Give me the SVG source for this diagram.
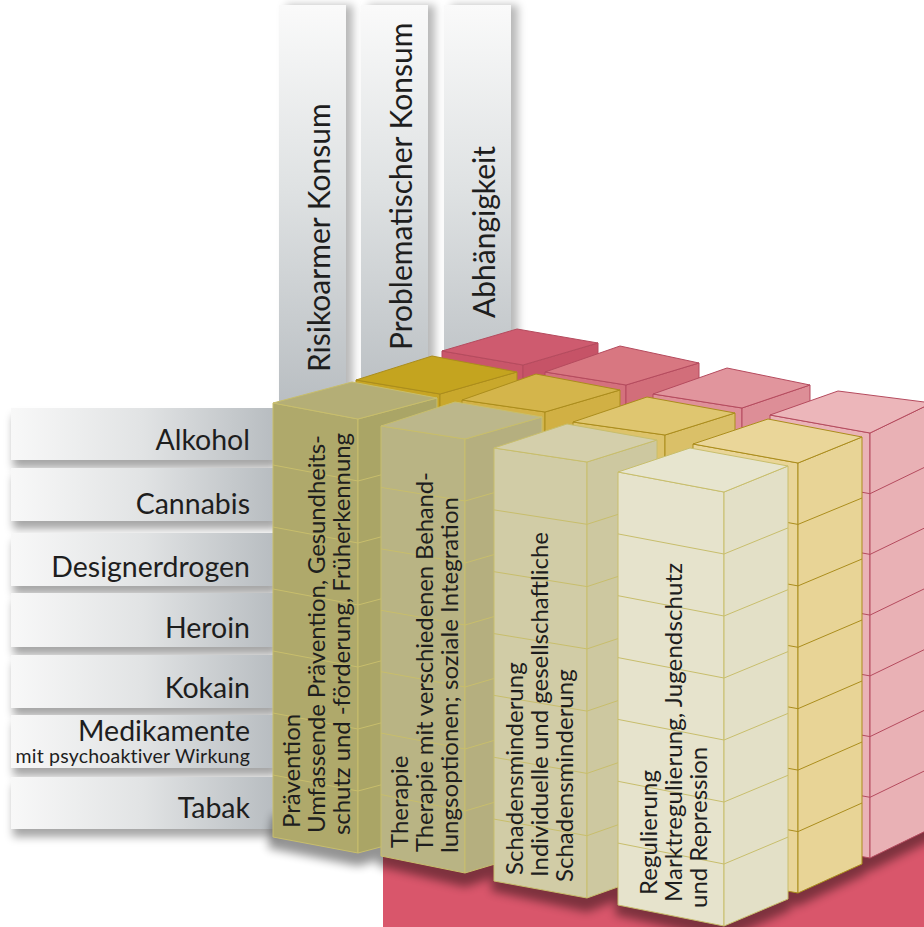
<svg xmlns="http://www.w3.org/2000/svg" width="924" height="927" viewBox="0 0 924 927">
<style>
.txt{font-family:Lato,"Open Sans","DejaVu Sans",sans-serif;font-weight:400;fill:#1e1e1e}
.tl{font-size:28.5px;text-anchor:end}
.ts{font-size:19.5px;text-anchor:end;letter-spacing:0.2px}
.tb{font-size:30px}
.tc{font-size:24px}
.er polygon,.er polyline{stroke:#b54b5e;stroke-width:1;stroke-linejoin:round}
.ey polygon,.ey polyline{stroke:#ab8d1c;stroke-width:1;stroke-linejoin:round}
.ef polygon,.ef polyline{stroke:#c8be6c;stroke-width:1;stroke-linejoin:round}
polyline{fill:none}
</style>
<defs>
<linearGradient id="gTop" x1="0" y1="5" x2="0" y2="410" gradientUnits="userSpaceOnUse">
<stop offset="0" stop-color="#fafafa"/><stop offset="0.45" stop-color="#dfe2e3"/><stop offset="1" stop-color="#b8bdc1"/>
</linearGradient>
<linearGradient id="gLeft" x1="11" y1="0" x2="276" y2="0" gradientUnits="userSpaceOnUse">
<stop offset="0" stop-color="#f8f8f8"/><stop offset="0.5" stop-color="#e1e3e4"/><stop offset="1" stop-color="#b7bcc0"/>
</linearGradient>
<filter id="shR" x="-20%" y="-5%" width="160%" height="110%">
<feDropShadow dx="7" dy="0" stdDeviation="4" flood-color="#000" flood-opacity="0.28"/>
</filter>
<filter id="shD" x="-5%" y="-20%" width="110%" height="160%">
<feDropShadow dx="2" dy="8" stdDeviation="4" flood-color="#000" flood-opacity="0.35"/>
</filter>
<filter id="blur" x="-20%" y="-50%" width="140%" height="200%">
<feGaussianBlur stdDeviation="5"/>
</filter>
</defs>
<rect width="924" height="927" fill="#ffffff"/>

<g id="top-bars">
<g id="bar-risikoarm">
<rect x="279" y="5" width="67" height="410" fill="url(#gTop)" filter="url(#shR)"/>
<text class="txt tb" transform="translate(330,372) rotate(-90)">Risikoarmer Konsum</text>
</g>
<g id="bar-problematisch">
<rect x="361" y="5" width="67" height="395" fill="url(#gTop)" filter="url(#shR)"/>
<text class="txt tb" transform="translate(412,350) rotate(-90)">Problematischer Konsum</text>
</g>
<g id="bar-abhaengigkeit">
<rect x="444" y="5" width="67" height="365" fill="url(#gTop)" filter="url(#shR)"/>
<text class="txt tb" transform="translate(495,318) rotate(-90)">Abhängigkeit</text>
</g>
</g>

<g id="left-bars">
<g id="row-alkohol"><rect x="11" y="408" width="265" height="52" fill="url(#gLeft)" filter="url(#shD)"/><text class="txt tl" x="250" y="450">Alkohol</text></g>
<g id="row-cannabis"><rect x="11" y="468" width="265" height="53" fill="url(#gLeft)" filter="url(#shD)"/><text class="txt tl" x="250" y="514">Cannabis</text></g>
<g id="row-designerdrogen"><rect x="11" y="533" width="265" height="53" fill="url(#gLeft)" filter="url(#shD)"/><text class="txt tl" x="250" y="577">Designerdrogen</text></g>
<g id="row-heroin"><rect x="11" y="593" width="265" height="54" fill="url(#gLeft)" filter="url(#shD)"/><text class="txt tl" x="250" y="638">Heroin</text></g>
<g id="row-kokain"><rect x="11" y="655" width="265" height="53" fill="url(#gLeft)" filter="url(#shD)"/><text class="txt tl" x="250" y="698">Kokain</text></g>
<g id="row-medikamente"><rect x="11" y="715" width="265" height="53" fill="url(#gLeft)" filter="url(#shD)"/><text class="txt tl" x="250" y="741">Medikamente</text><text class="txt ts" x="250" y="763">mit psychoaktiver Wirkung</text></g>
<g id="row-tabak"><rect x="11" y="777" width="265" height="52" fill="url(#gLeft)" filter="url(#shD)"/><text class="txt tl" x="250" y="818">Tabak</text></g>
</g>

<g id="base">
<polygon points="383,700 924,700 924,927 383,927" fill="#d9566b"/>
</g>

<g id="shadows" filter="url(#blur)" fill="#000" opacity="0.42">
<polygon points="273,815 358,831 437,810 440,842 358,866 268,848"/>
<polygon points="381,835 465,852 542,829 545,860 465,887 378,866"/>
<polygon points="494,860 587,877 657,852 660,884 587,912 491,891"/>
<polygon points="618,884 724,905 788,878 791,910 724,940 615,915"/>
<polygon points="693,853 798,872 862,843 866,874 798,906 690,884"/>
<polygon points="770,819 870,837 932,807 936,838 870,871 767,850"/>
</g>

<g id="row-abhaengigkeit-cubes" class="er">
<g id="r1">
<polygon points="442,351 523,365 523,790 442,776" fill="#c9566a"/>
<polygon points="523,365 598,343 598,768 523,790" fill="#c65367"/>
<polygon points="442,351 517,329 598,343 523,365" fill="#ce5b6f"/>
<polyline points="442,411.7 523,425.7 598,403.7"/><polyline points="442,472.4 523,486.4 598,464.4"/><polyline points="442,533.1 523,547.1 598,525.1"/><polyline points="442,593.9 523,607.9 598,585.9"/><polyline points="442,654.6 523,668.6 598,646.6"/><polyline points="442,715.3 523,729.3 598,707.3"/>
</g>
<g id="r2">
<polygon points="545,372 626,385 626,810 545,797" fill="#d4717d"/>
<polygon points="626,385 699,363 699,788 626,810" fill="#d26e7a"/>
<polygon points="545,372 620,346 699,363 626,385" fill="#d87781"/>
<polyline points="545,432.7 626,445.7 699,423.7"/><polyline points="545,493.4 626,506.4 699,484.4"/><polyline points="545,554.1 626,567.1 699,545.1"/><polyline points="545,614.9 626,627.9 699,605.9"/><polyline points="545,675.6 626,688.6 699,666.6"/><polyline points="545,736.3 626,749.3 699,727.3"/>
</g>
<g id="r3">
<polygon points="653,394 742,408 742,833 653,819" fill="#df9099"/>
<polygon points="742,408 810,385 810,810 742,833" fill="#dd8e97"/>
<polygon points="653,394 727,368 810,385 742,408" fill="#e1959d"/>
<polyline points="653,454.7 742,468.7 810,445.7"/><polyline points="653,515.4 742,529.4 810,506.4"/><polyline points="653,576.1 742,590.1 810,567.1"/><polyline points="653,636.9 742,650.9 810,627.9"/><polyline points="653,697.6 742,711.6 810,688.6"/><polyline points="653,758.3 742,772.3 810,749.3"/>
</g>
<g id="r4">
<polygon points="770,415 870,433 870,858 770,840" fill="#eab3b7"/>
<polygon points="870,433 932,403 932,828 870,858" fill="#e9b1b5"/>
<polygon points="770,415 838,391 932,403 870,433" fill="#ecb6ba"/>
<polyline points="770,475.7 870,493.7 932,463.7"/><polyline points="770,536.4 870,554.4 932,524.4"/><polyline points="770,597.1 870,615.1 932,585.1"/><polyline points="770,657.9 870,675.9 932,645.9"/><polyline points="770,718.6 870,736.6 932,706.6"/><polyline points="770,779.3 870,797.3 932,767.3"/>
</g>
</g>

<g id="row-problematisch-cubes" class="ey">
<g id="y1">
<polygon points="356,380 440,394 440,824 356,810" fill="#c7a524"/>
<polygon points="440,394 517,372 517,802 440,824" fill="#c9a82c"/>
<polygon points="356,380 432,356 517,372 440,394" fill="#c4a41f"/>
<polyline points="356,441.4 440,455.4 517,433.4"/><polyline points="356,502.9 440,516.9 517,494.9"/><polyline points="356,564.3 440,578.3 517,556.3"/><polyline points="356,625.7 440,639.7 517,617.7"/><polyline points="356,687.1 440,701.1 517,679.1"/><polyline points="356,748.6 440,762.6 517,740.6"/>
</g>
<g id="y2">
<polygon points="462,400 545,412 545,842 462,830" fill="#d3b247"/>
<polygon points="545,412 620,390 620,820 545,842" fill="#d1b044"/>
<polygon points="462,400 536,374 620,390 545,412" fill="#d4b54b"/>
<polyline points="462,461.4 545,473.4 620,451.4"/><polyline points="462,522.9 545,534.9 620,512.9"/><polyline points="462,584.3 545,596.3 620,574.3"/><polyline points="462,645.7 545,657.7 620,635.7"/><polyline points="462,707.1 545,719.1 620,697.1"/><polyline points="462,768.6 545,780.6 620,758.6"/>
</g>
<g id="y3">
<polygon points="573,422 665,435 665,865 573,852" fill="#ddc36b"/>
<polygon points="665,435 735,413 735,843 665,865" fill="#dac068"/>
<polygon points="573,422 647,397 735,413 665,435" fill="#dfc670"/>
<polyline points="573,483.4 665,496.4 735,474.4"/><polyline points="573,544.9 665,557.9 735,535.9"/><polyline points="573,606.3 665,619.3 735,597.3"/><polyline points="573,667.7 665,680.7 735,658.7"/><polyline points="573,729.1 665,742.1 735,720.1"/><polyline points="573,790.6 665,803.6 735,781.6"/>
</g>
<g id="y4">
<polygon points="693,444 798,463 798,893 693,874" fill="#e9d598"/>
<polygon points="798,463 862,437 862,864 798,893" fill="#e8d496"/>
<polygon points="693,444 768,419 862,437 798,463" fill="#ead699"/>
<polyline points="693,505.4 798,524.4 862,498"/><polyline points="693,566.9 798,585.9 862,559"/><polyline points="693,628.3 798,647.3 862,620"/><polyline points="693,689.7 798,708.7 862,681"/><polyline points="693,751.1 798,770.1 862,742"/><polyline points="693,812.6 798,831.6 862,803"/>
</g>
</g>

<g id="row-risikoarm-cubes" class="ef">
<g id="praevention">
<polygon points="273,403 358,419 358,853 273,837" fill="#afa96b"/>
<polygon points="358,419 437,398 437,832 358,853" fill="#aaa566"/>
<polygon points="273,403 352,382 437,398 358,419" fill="#b4ae76"/>
<polyline points="273,465 358,481 437,460"/><polyline points="273,527 358,543 437,522"/><polyline points="273,589 358,605 437,584"/><polyline points="273,651 358,667 437,646"/><polyline points="273,713 358,729 437,708"/><polyline points="273,775 358,791 437,770"/>
<text class="txt tc" transform="translate(300,828) rotate(-90)">Prävention</text>
<text class="txt tc" transform="translate(325,833) rotate(-90)" textLength="398">Umfassende Prävention, Gesundheits-</text>
<text class="txt tc" transform="translate(350,835) rotate(-90)" textLength="402">schutz und -förderung, Früherkennung</text>
</g>
<g id="therapie">
<polygon points="381,426 465,439 465,873 381,856" fill="#b9b484"/>
<polygon points="465,439 542,417 542,850 465,873" fill="#b5af7f"/>
<polygon points="381,426 455,402 542,417 465,439" fill="#bcb78b"/>
<polyline points="381,487.4 465,501 542,478.9"/><polyline points="381,548.9 465,563 542,540.7"/><polyline points="381,610.3 465,625 542,602.6"/><polyline points="381,671.7 465,687 542,664.4"/><polyline points="381,733.1 465,749 542,726.3"/><polyline points="381,794.6 465,811 542,788.1"/>
<text class="txt tc" transform="translate(408,848) rotate(-90)">Therapie</text>
<text class="txt tc" transform="translate(433,852) rotate(-90)" textLength="380">Therapie mit verschiedenen Behand-</text>
<text class="txt tc" transform="translate(458,853) rotate(-90)" textLength="356">lungsoptionen; soziale Integration</text>
</g>
<g id="schadensminderung">
<polygon points="494,448 587,462 587,898 494,881" fill="#d1cca6"/>
<polygon points="587,462 657,440 657,873 587,898" fill="#cdc8a0"/>
<polygon points="494,448 567,424 657,440 587,462" fill="#d4cfab"/>
<polyline points="494,509.9 587,524.3 657,501.9"/><polyline points="494,571.7 587,586.6 657,563.7"/><polyline points="494,633.6 587,648.9 657,625.6"/><polyline points="494,695.4 587,711.1 657,687.4"/><polyline points="494,757.3 587,773.4 657,749.3"/><polyline points="494,819.1 587,835.7 657,811.1"/>
<text class="txt tc" transform="translate(523,875) rotate(-90)">Schadensminderung</text>
<text class="txt tc" transform="translate(548,877) rotate(-90)">Individuelle und gesellschaftliche</text>
<text class="txt tc" transform="translate(573,882) rotate(-90)">Schadensminderung</text>
</g>
<g id="regulierung">
<polygon points="618,472 724,492 724,926 618,905" fill="#e6e3cc"/>
<polygon points="724,492 788,466 788,899 724,926" fill="#e3e0c7"/>
<polygon points="618,472 690,448 788,466 724,492" fill="#e7e5cf"/>
<polyline points="618,533.9 724,554 788,527.9"/><polyline points="618,595.7 724,616 788,589.7"/><polyline points="618,657.6 724,678 788,651.6"/><polyline points="618,719.4 724,740 788,713.4"/><polyline points="618,781.3 724,802 788,775.3"/><polyline points="618,843.1 724,864 788,837.1"/>
<text class="txt tc" transform="translate(657,895) rotate(-90)">Regulierung</text>
<text class="txt tc" transform="translate(682,902) rotate(-90)" textLength="339">Marktregulierung, Jugendschutz</text>
<text class="txt tc" transform="translate(707,908) rotate(-90)">und Repression</text>
</g>
</g>
</svg>
